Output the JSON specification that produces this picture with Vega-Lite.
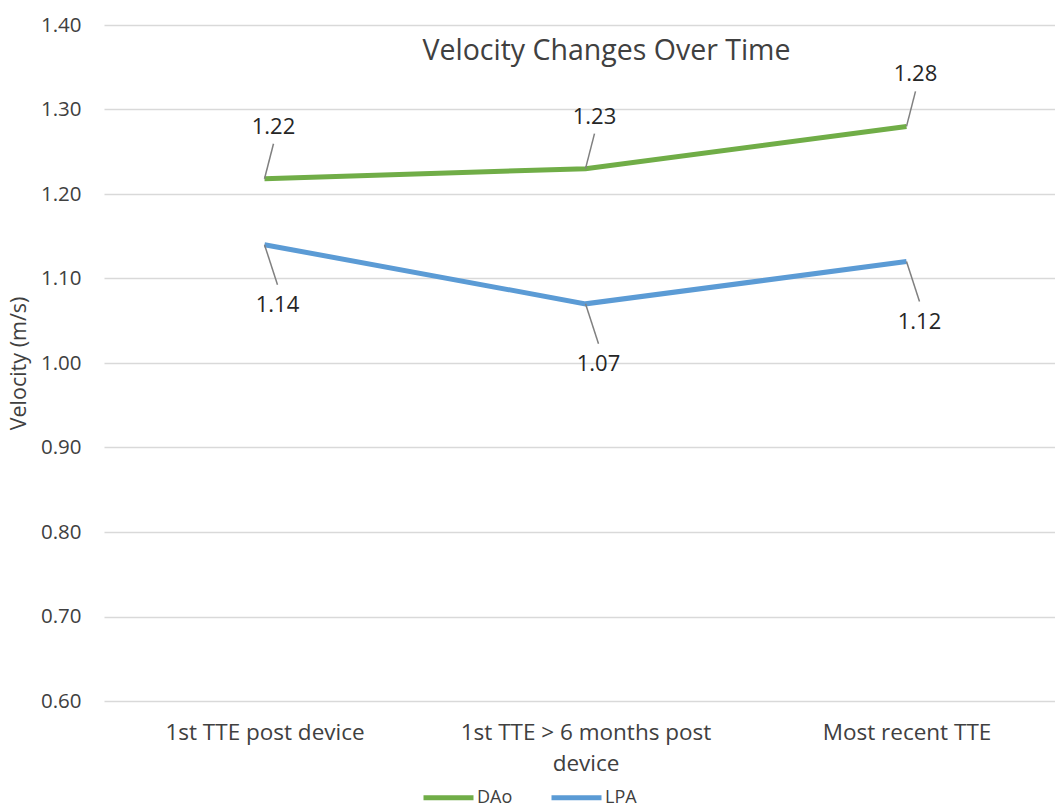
{
  "$schema": "https://vega.github.io/schema/vega-lite/v6.json",
  "width": 951,
  "height": 676,
  "autosize": "none",
  "padding": {"left": 104, "top": 25, "right": 0, "bottom": 108},
  "background": "white",
  "config": {
    "font": "Open Sans",
    "view": {"stroke": null},
    "axis": {"labelColor": "#404040", "titleColor": "#404040", "domain": false, "ticks": false},
    "axisY": {"titleFontSize": 21.5, "titleFontWeight": "normal"}
  },
  "title": {
    "text": "Velocity Changes Over Time",
    "fontSize": 28.5,
    "fontWeight": "normal",
    "color": "#404040",
    "anchor": "middle",
    "baseline": "middle",
    "offset": 0,
    "dy": 64,
    "dx": 27
  },
  "data": {
    "values": [
      {"time": "1st TTE post device", "series": "DAo", "value": 1.218},
      {"time": "1st TTE > 6 months post device", "series": "DAo", "value": 1.23},
      {"time": "Most recent TTE", "series": "DAo", "value": 1.28},
      {"time": "1st TTE post device", "series": "LPA", "value": 1.14},
      {"time": "1st TTE > 6 months post device", "series": "LPA", "value": 1.07},
      {"time": "Most recent TTE", "series": "LPA", "value": 1.12}
    ]
  },
  "encoding": {
    "x": {
      "field": "time",
      "type": "nominal",
      "sort": null,
      "scale": {"type": "point", "padding": 0.5, "range": [0, 963]},
      "axis": {
        "title": null,
        "labelAngle": 0,
        "labelFontSize": 22.5,
        "labelPadding": 20,
        "labelLineHeight": 31,
        "labelLimit": 400,
        "labelExpr": "datum.label == '1st TTE > 6 months post device' ? ['1st TTE > 6 months post', 'device'] : datum.label",
        "grid": false
      }
    },
    "y": {
      "field": "value",
      "type": "quantitative",
      "scale": {"domain": [0.6, 1.4], "nice": false, "zero": false},
      "axis": {
        "title": "Velocity (m/s)",
        "titlePadding": 10,
        "values": [0.6, 0.7, 0.8, 0.9, 1.0, 1.1, 1.2, 1.3, 1.4],
        "format": ".2f",
        "labelFontSize": 20.5,
        "labelPadding": 23,
        "gridColor": "#d9d9d9",
        "gridWidth": 1.5
      }
    }
  },
  "layer": [
    {
      "mark": {"type": "line", "strokeWidth": 5},
      "encoding": {
        "color": {
          "field": "series",
          "type": "nominal",
          "scale": {"domain": ["DAo", "LPA"], "range": ["#70AD47", "#5B9BD5"]},
          "legend": {
            "title": null,
            "orient": "none",
            "direction": "horizontal",
            "legendX": 317,
            "legendY": 745,
            "symbolType": "stroke",
            "symbolSize": 2500,
            "symbolStrokeWidth": 5,
            "labelFontSize": 18,
            "labelColor": "#404040",
            "labelOffset": 1,
            "columnPadding": 28,
            "padding": 0
          }
        }
      }
    },
    {
      "transform": [{"filter": "datum.series == 'DAo'"}],
      "mark": {"type": "rule", "color": "#808080", "strokeWidth": 1.5, "x2Offset": 9, "y2Offset": -35},
      "encoding": {"x2": {"field": "time"}, "y2": {"field": "value"}}
    },
    {
      "transform": [{"filter": "datum.series == 'LPA'"}],
      "mark": {"type": "rule", "color": "#808080", "strokeWidth": 1.5, "x2Offset": 13, "y2Offset": 40},
      "encoding": {"x2": {"field": "time"}, "y2": {"field": "value"}}
    },
    {
      "transform": [{"filter": "datum.series == 'DAo'"}],
      "mark": {"type": "text", "fontSize": 22, "color": "#262626", "dx": 9, "dy": -52},
      "encoding": {"text": {"field": "value", "type": "quantitative", "format": ".2f"}}
    },
    {
      "transform": [{"filter": "datum.series == 'LPA'"}],
      "mark": {"type": "text", "fontSize": 22, "color": "#262626", "dx": 13, "dy": 60},
      "encoding": {"text": {"field": "value", "type": "quantitative", "format": ".2f"}}
    }
  ]
}
